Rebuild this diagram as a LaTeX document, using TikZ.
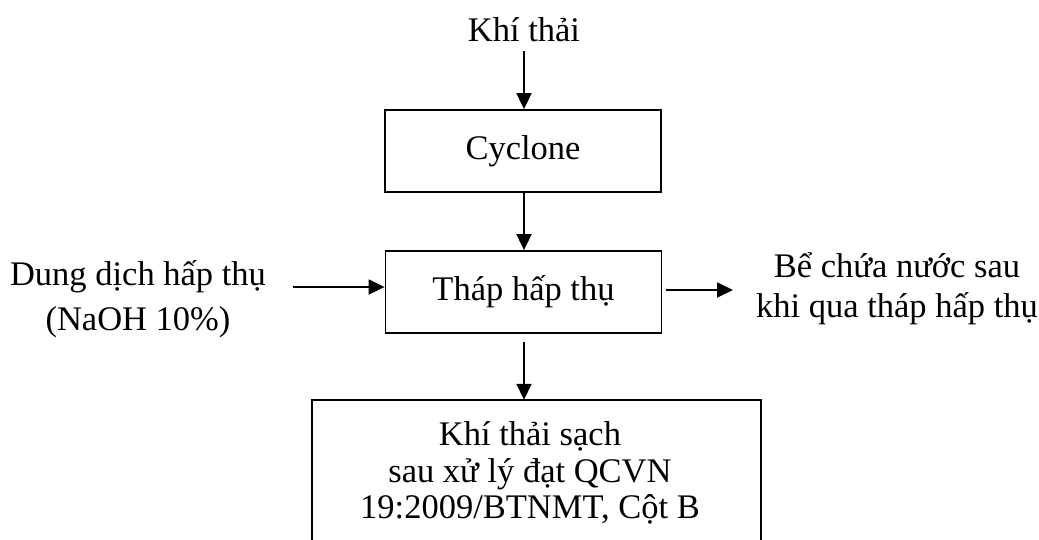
\documentclass[tikz,border=0pt]{standalone}
\usepackage{fontspec}
\setmainfont{Liberation Serif}
\usetikzlibrary{arrows.meta}
\begin{document}
\begin{tikzpicture}[x=1pt,y=-1pt,
  every node/.style={font=\fontsize{34.5}{36.5}\selectfont, inner sep=0pt},
  procbox/.style={draw, line width=1.8pt, minimum width=276pt, minimum height=82pt},
  arr/.style={line width=1.8pt, -{Triangle[length=16pt,width=15pt]}},
  frame/.style={line width=1.8pt}]
\useasboundingbox (0,0) rectangle (1039,539);
% texts and boxes
\node[anchor=base] (khi) at (524,41) {Khí thải};
\node[procbox] (cyc) at (523,151) {Cyclone};
\node[procbox] (tower) at (523.5,292) {Tháp hấp thụ};
\node[align=center, font=\fontsize{34.5}{45}\selectfont] (dd) at (138,299) {Dung dịch hấp thụ\\(NaOH 10\%)};
\node[align=center, font=\fontsize{34.5}{40}\selectfont] (be) at (897,289) {Bể chứa nước sau\\khi qua tháp hấp thụ};
\node[align=center, minimum width=449pt, minimum height=142pt] (clean) at (530,473)
  {Khí thải sạch\\sau xử lý đạt QCVN\\19:2009/BTNMT, Cột B};
% open frame of the bottom box (cut at picture edge)
\draw[frame] ([xshift=6.5pt]clean.south west) -- ([xshift=6.5pt,yshift=2pt]clean.north west)
  -- ([xshift=6.5pt,yshift=2pt]clean.north east) -- ([xshift=6.5pt]clean.south east);
% free ends of connectors
\coordinate (kstart) at (524,51);
\coordinate (lstart) at (293,287);
\coordinate (rend) at (733,290);
\coordinate (bstart) at (524,342);
% connectors
\draw[arr] (kstart) -- (kstart |- cyc.north);
\draw[arr] (cyc.south -| kstart) -- (tower.north -| kstart);
\draw[arr] (lstart) -- (lstart -| tower.west);
\draw[arr] (rend -| tower.east) ++(4,0) -- (rend);
\draw[arr] (bstart) -- ([yshift=2pt]bstart |- clean.north);
\end{tikzpicture}
\end{document}
